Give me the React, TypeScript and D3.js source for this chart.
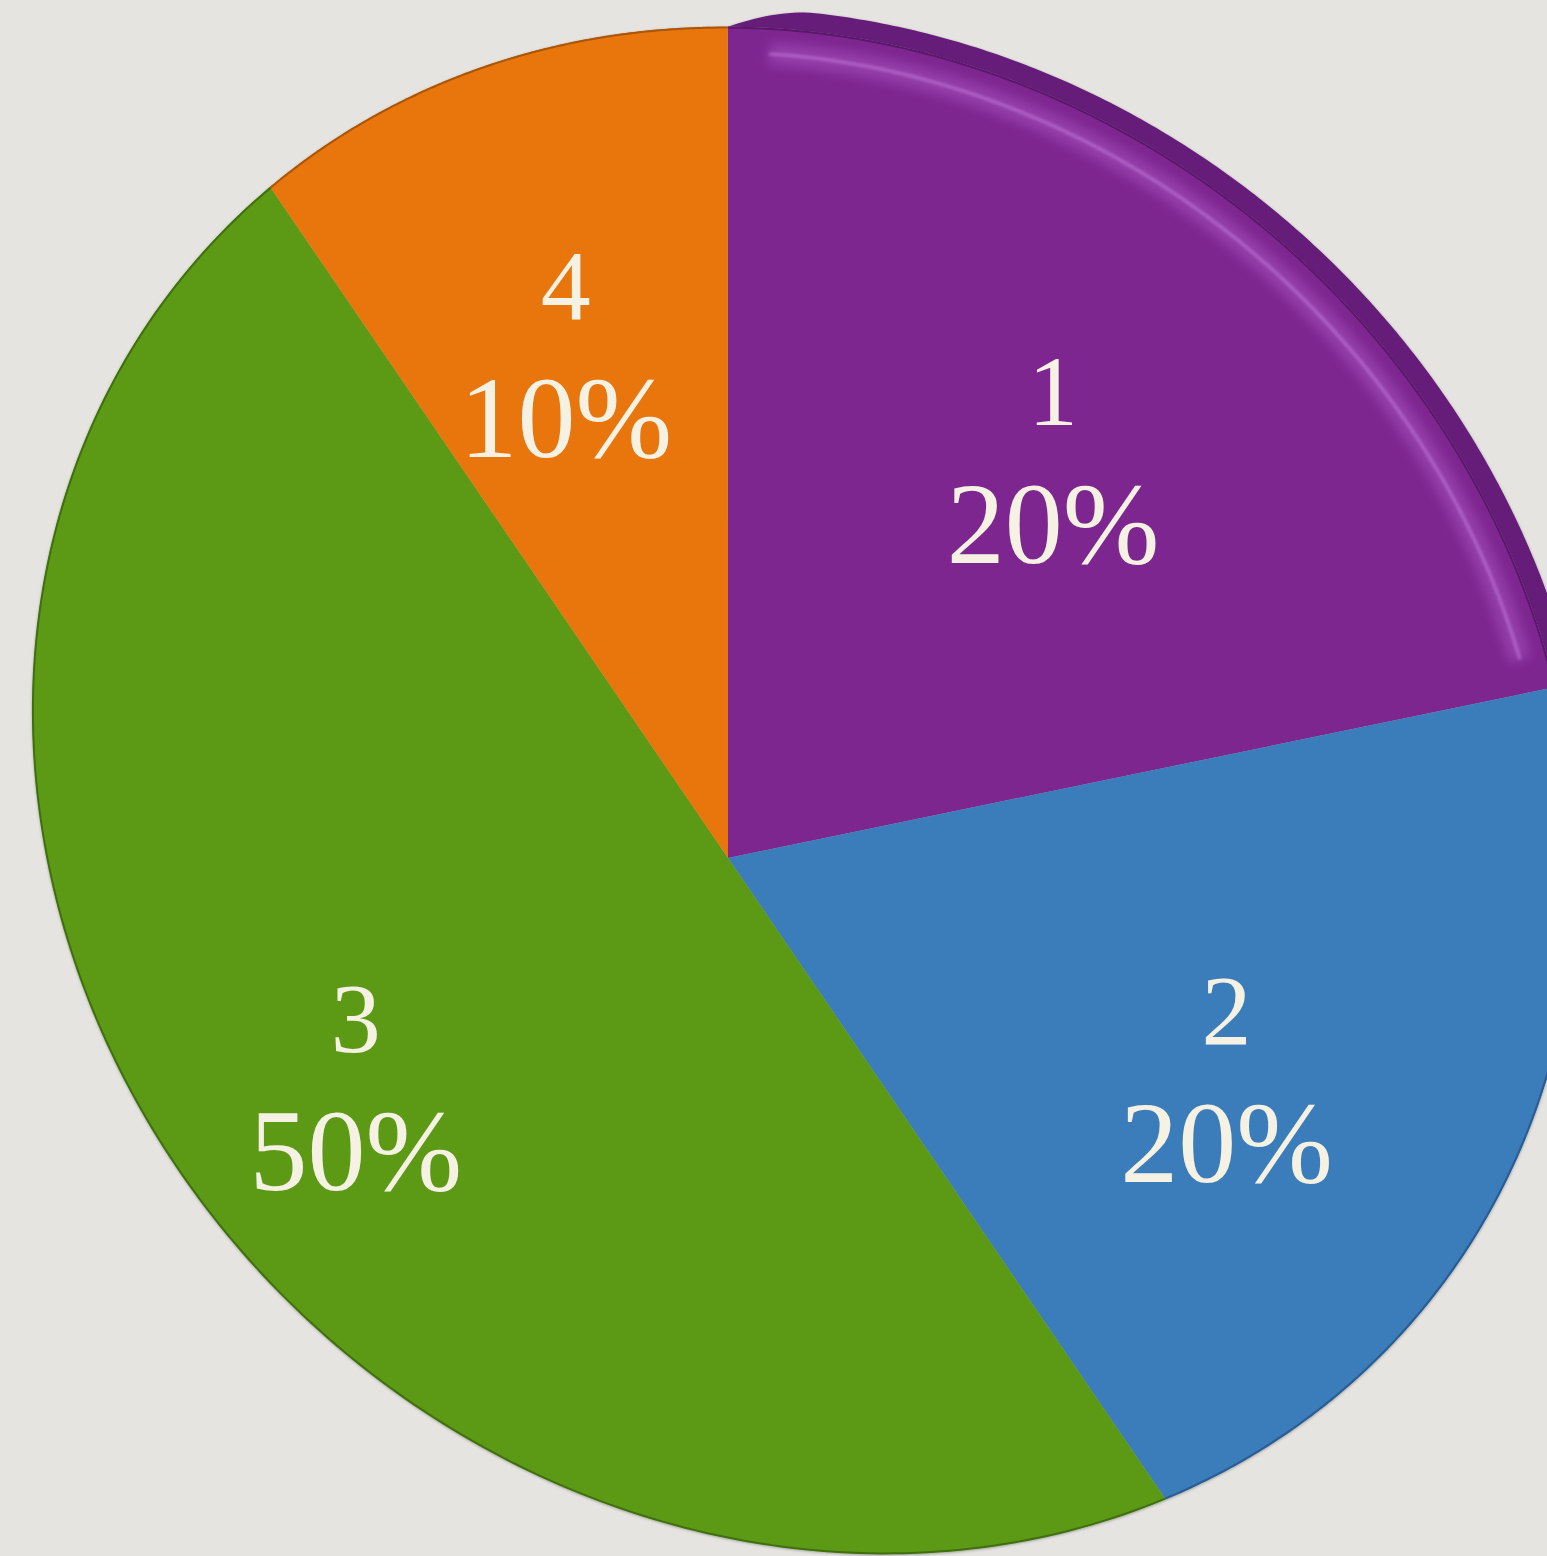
import React from 'react';
import * as d3 from 'd3';

const categories = ['1', '2', '3', '4'];
const shares = [20, 20, 50, 10];
const percentLabels = ['20%', '20%', '50%', '10%'];
const sliceColors = ['#7e2890', '#3b7cbb', '#5c9a12', '#e8760b'];
const rimColors = ['#5a186b', '#285c92', '#3f700d', '#a9560a'];

const W = 1547;
const H = 1556;

// perspective view of the unit disc (u = sin θ, v = -cos θ)
const P = { a: 689, b: 73, c: 728, d: 1, e: 834, f: 858, g: -0.099, h: 0.1 };
function project(u: number, v: number): [number, number] {
  const w = 1 + P.g * u + P.h * v;
  return [(P.a * u + P.b * v + P.c) / w, (P.d * u + P.e * v + P.f) / w];
}
function arcPts(a0: number, a1: number, r: number, n = 200): [number, number][] {
  return d3.range(n + 1).map((i) => {
    const t = a0 + ((a1 - a0) * i) / n;
    return project(r * Math.sin(t), -r * Math.cos(t));
  });
}

const line = d3.line<[number, number]>().x((p) => p[0]).y((p) => p[1]);

export default function App() {
  const pie = d3.pie<number>().sort(null).startAngle(0).endAngle(2 * Math.PI);
  const arcs = pie(shares);

  const sectorPath = (a0: number, a1: number) =>
    line([project(0, 0), ...arcPts(a0, a1, 1)]) + 'Z';

  const wall = arcs[0];
  const inner = arcPts(wall.startAngle, wall.endAngle, 1);
  const outer = arcPts(wall.startAngle, wall.endAngle, 1.02).map(([x, y], i, arr) => {
    // the raised wall grows quickly from nothing at the leading edge
    const s = Math.min(1, (i / (arr.length - 1)) * 12);
    const t = Math.sin((s * Math.PI) / 2);
    const [x0, y0] = inner[i];
    return [x0 + (x - x0) * t, y0 + (y - y0) * t] as [number, number];
  });
  const wallPath = line([...inner, ...outer.reverse()]) + 'Z';
  const highlightPath = line(arcPts(wall.startAngle + 0.05, wall.endAngle - 0.04, 0.972));

  return (
    <svg width={W} height={H} style={{ position: 'absolute', left: 0, top: 0, display: 'block' }}>
      <defs>
        <filter id="shadow" x="-10%" y="-10%" width="120%" height="120%">
          <feDropShadow dx="0" dy="1" stdDeviation="1.5" floodColor="#000" floodOpacity="0.35" />
        </filter>
        <filter id="blur" x="-10%" y="-10%" width="120%" height="120%">
          <feGaussianBlur stdDeviation="6" />
        </filter>
        <filter id="blurSmall" x="-10%" y="-10%" width="120%" height="120%">
          <feGaussianBlur stdDeviation="1.5" />
        </filter>
        <clipPath id="purpleClip">
          <path d={sectorPath(wall.startAngle, wall.endAngle)} />
        </clipPath>
      </defs>
      <rect x={0} y={0} width={W} height={H} fill="#e5e4e0" />
      <g filter="url(#shadow)">
        <path d={wallPath} fill="#661d79" />
        {arcs.map((d, i) => (
          <path key={categories[i]} d={sectorPath(d.startAngle, d.endAngle)} fill={sliceColors[i]} />
        ))}
      </g>
      {arcs.map((d, i) => (
        <path
          key={'rim' + categories[i]}
          d={line(arcPts(d.startAngle, d.endAngle, 0.999)) || ''}
          fill="none"
          stroke={rimColors[i]}
          strokeWidth={2}
        />
      ))}
      <g clipPath="url(#purpleClip)">
        <path d={highlightPath || ''} fill="none" stroke="#b866d0" strokeWidth={22} opacity={0.4} filter="url(#blur)" />
        <path d={highlightPath || ''} fill="none" stroke="#cf86e6" strokeWidth={3} opacity={0.55} filter="url(#blurSmall)" />
      </g>
      {arcs.map((d, i) => {
        const mid = (d.startAngle + d.endAngle) / 2;
        const [x, y] = project(0.66 * Math.sin(mid), -0.66 * Math.cos(mid));
        return (
          <g key={'lab' + categories[i]} fontFamily="'Liberation Serif', 'DejaVu Serif', serif" fill="#f5f2e3" textAnchor="middle" style={{ fontVariantNumeric: 'oldstyle-nums' }}>
            <text x={x} y={y - 30} fontSize={100}>{categories[i]}</text>
            <text x={x} y={y + 108} fontSize={116}>{percentLabels[i]}</text>
          </g>
        );
      })}
    </svg>
  );
}
